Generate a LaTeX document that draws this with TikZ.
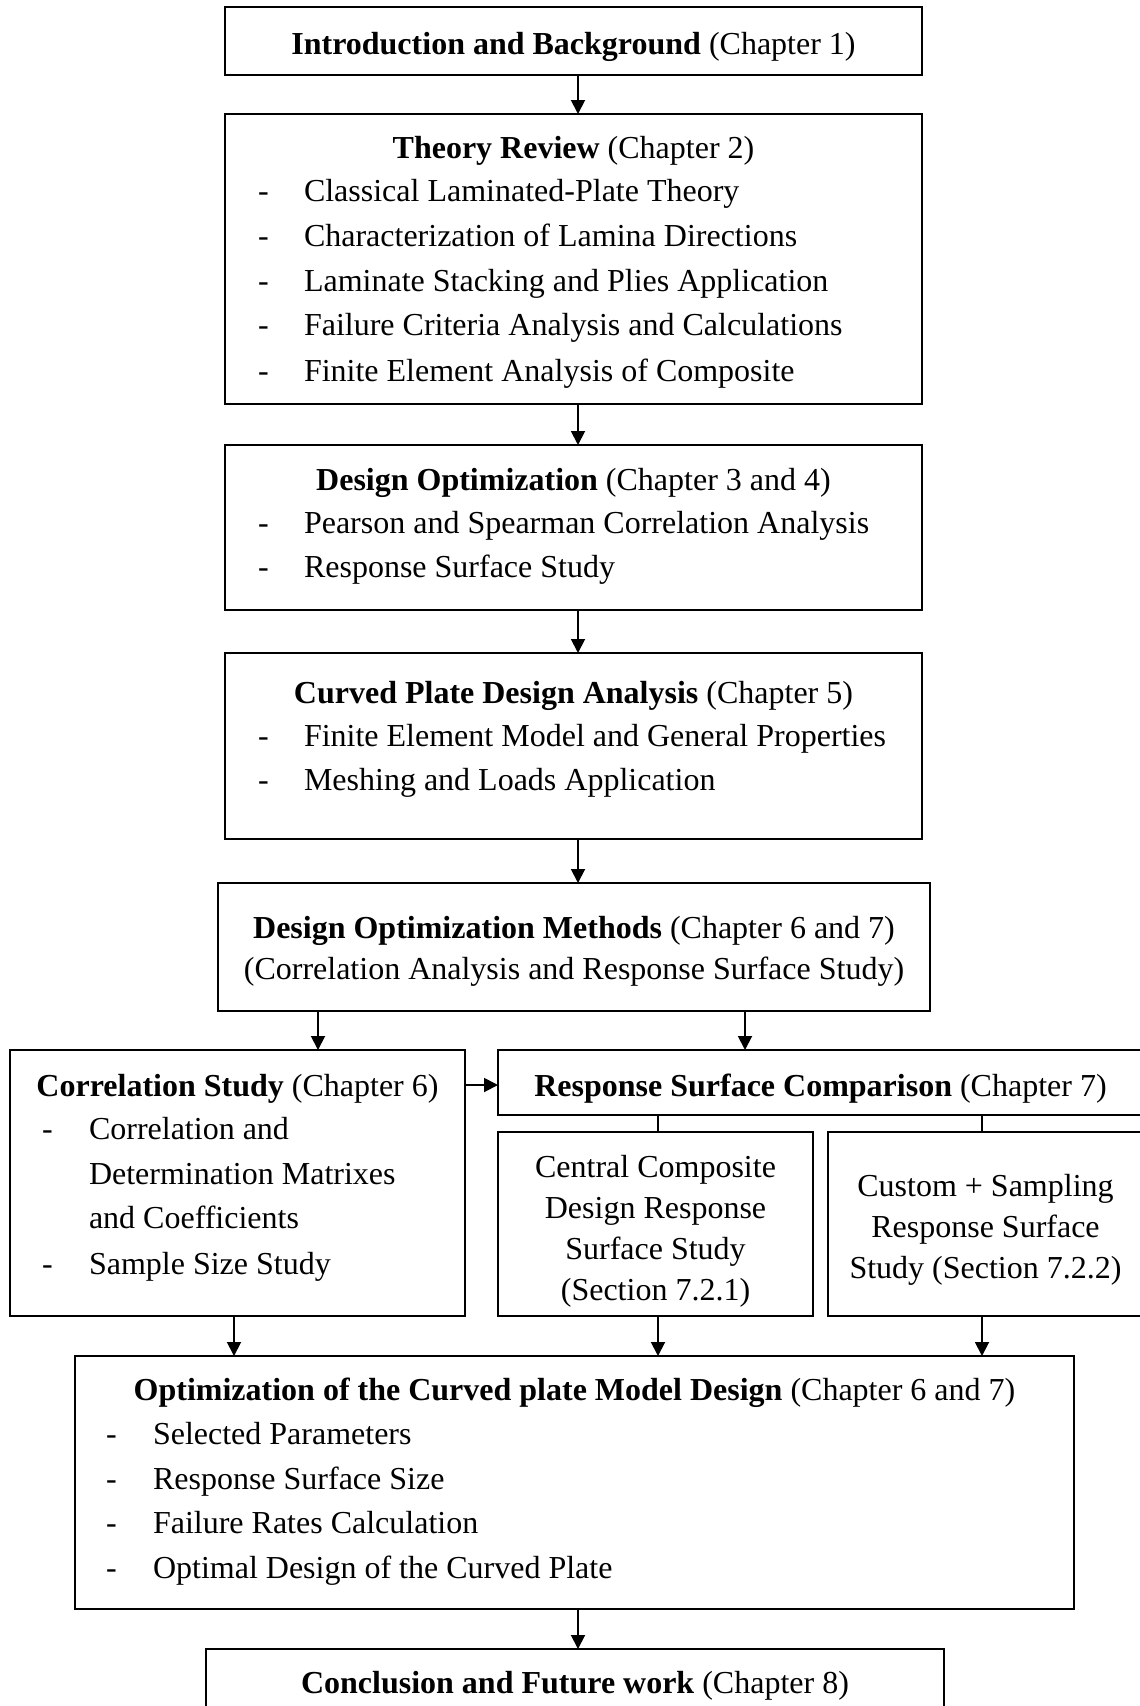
\documentclass[tikz,border=0pt]{standalone}
\usepackage{fontspec}
\setmainfont{Liberation Serif}
\usetikzlibrary{arrows.meta}

\begin{document}
\begin{tikzpicture}[x=1pt,y=-1pt,
  box/.style={draw=black, line width=2.2pt, rectangle, inner sep=0pt, outer sep=0pt},
  txt/.style={inner sep=0pt, outer sep=0pt, font=\fontsize{32}{40}\selectfont},
  ttl/.style={txt, anchor=base},
  itm/.style={txt, anchor=base west},
  arr/.style={line width=1.9pt, -{Triangle[length=14pt,width=14pt]}},
  tick/.style={line width=1.9pt}]

\useasboundingbox (0,0) rectangle (1140,1706);

% ---- boxes ----
\node[box, minimum width=697pt, minimum height=68pt]  (intro)  at (573.5,41)    {};
\node[box, minimum width=697pt, minimum height=290pt] (theory) at (573.5,259)   {};
\node[box, minimum width=697pt, minimum height=165pt] (desopt) at (573.5,527.5) {};
\node[box, minimum width=697pt, minimum height=186pt] (curved) at (573.5,746)   {};
\node[box, minimum width=712pt, minimum height=128pt] (methods) at (574,947)    {};
\node[box, minimum width=455pt, minimum height=266pt] (corr)   at (237.5,1183)  {};
\node[box, minimum width=645pt, minimum height=65pt]  (rsc)    at (820.5,1082.5){};
\node[box, minimum width=315pt, minimum height=184pt] (ccd)    at (655.5,1224)  {};
\node[box, minimum width=315pt, minimum height=184pt] (cust)   at (985.5,1224)  {};
\node[box, minimum width=999pt, minimum height=253pt] (optim)  at (574.5,1482.5){};
\node[box, minimum width=738pt, minimum height=81pt]  (concl)  at (575,1689.5)  {};

% ---- texts ----
\begin{scope}[yshift=-1.5pt]
\node[ttl] (t1) at (573.5,52.7) {\textbf{Introduction and Background} (Chapter 1)};

\node[ttl] (t2) at (573.5,157) {\textbf{Theory Review} (Chapter 2)};
\foreach \y/\s [count=\i] in {200/Classical Laminated-Plate Theory,
                              245/Characterization of Lamina Directions,
                              290/Laminate Stacking and Plies Application,
                              334/Failure Criteria Analysis and Calculations,
                              380/Finite Element Analysis of Composite}{
  \node[itm] (t2d\i) at (258,\y) {-};
  \node[itm] (t2i\i) at (304,\y) {\s};
}

\node[ttl] (t3) at (573.5,489) {\textbf{Design Optimization} (Chapter 3 and 4)};
\foreach \y/\s [count=\i] in {532/Pearson and Spearman Correlation Analysis,
                              576/Response Surface Study}{
  \node[itm] (t3d\i) at (258,\y) {-};
  \node[itm] (t3i\i) at (304,\y) {\s};
}

\node[ttl] (t4) at (573.5,702) {\textbf{Curved Plate Design Analysis} (Chapter 5)};
\foreach \y/\s [count=\i] in {745/Finite Element Model and General Properties,
                              789/Meshing and Loads Application}{
  \node[itm] (t4d\i) at (258,\y) {-};
  \node[itm] (t4i\i) at (304,\y) {\s};
}

\node[ttl] (t5a) at (574,937) {\textbf{Design Optimization Methods} (Chapter 6 and 7)};
\node[ttl] (t5b) at (574,978) {(Correlation Analysis and Response Surface Study)};

\node[ttl] (t6) at (237.5,1094.7) {\textbf{Correlation Study} (Chapter 6)};
\node[itm] (t6d1) at (42,1138) {-};
\node[itm] (t6i1) at (89,1138) {Correlation and};
\node[itm] (t6i2) at (89,1183) {Determination Matrixes};
\node[itm] (t6i3) at (89,1227) {and Coefficients};
\node[itm] (t6d2) at (42,1272.7) {-};
\node[itm] (t6i4) at (89,1272.7) {Sample Size Study};

\node[ttl] (t7) at (820.5,1094.7) {\textbf{Response Surface Comparison} (Chapter 7)};

\node[ttl] (t8a) at (655.5,1175.7) {Central Composite};
\node[ttl] (t8b) at (655.5,1216.5) {Design Response};
\node[ttl] (t8c) at (655.5,1257.5) {Surface Study};
\node[ttl] (t8d) at (655.5,1299)   {(Section 7.2.1)};

\node[ttl] (t9a) at (985.5,1194.7) {Custom + Sampling};
\node[ttl] (t9b) at (985.5,1236)   {Response Surface};
\node[ttl] (t9c) at (985.5,1276.5) {Study (Section 7.2.2)};

\node[ttl] (t10) at (574.5,1398.5) {\textbf{Optimization of the Curved plate Model Design} (Chapter 6 and 7)};
\foreach \y/\s [count=\i] in {1443/Selected Parameters,
                              1487.8/Response Surface Size,
                              1532/Failure Rates Calculation,
                              1576.6/Optimal Design of the Curved Plate}{
  \node[itm] (t10d\i) at (106,\y) {-};
  \node[itm] (t10i\i) at (153,\y) {\s};
}

\node[ttl] (t11) at (575,1691.6) {\textbf{Conclusion and Future work} (Chapter 8)};
\end{scope}

% ---- connector positions ----
\coordinate (spine) at (578,0);
\coordinate (leftdrop) at (318,0);
\coordinate (rightdrop) at (745,0);
\coordinate (corrdrop) at (234,0);
\coordinate (ccddrop) at (658,0);
\coordinate (custdrop) at (982,0);
\coordinate (sideline) at (0,1085);

% ---- connectors ----
\draw[arr] (intro.south -| spine)  -- (theory.north -| spine);
\draw[arr] (theory.south -| spine) -- (desopt.north -| spine);
\draw[arr] (desopt.south -| spine) -- (curved.north -| spine);
\draw[arr] (curved.south -| spine) -- (methods.north -| spine);
\draw[arr] (methods.south -| leftdrop)  -- (corr.north -| leftdrop);
\draw[arr] (methods.south -| rightdrop) -- (rsc.north -| rightdrop);
\draw[arr] (corr.east |- sideline) -- (rsc.west |- sideline);
\draw[tick] (rsc.south -| ccddrop)  -- (ccd.north -| ccddrop);
\draw[tick] (rsc.south -| custdrop) -- (cust.north -| custdrop);
\draw[arr] (corr.south -| corrdrop) -- (optim.north -| corrdrop);
\draw[arr] (ccd.south -| ccddrop)   -- (optim.north -| ccddrop);
\draw[arr] (cust.south -| custdrop) -- (optim.north -| custdrop);
\draw[arr] (optim.south -| spine) -- (concl.north -| spine);

\end{tikzpicture}
\end{document}
